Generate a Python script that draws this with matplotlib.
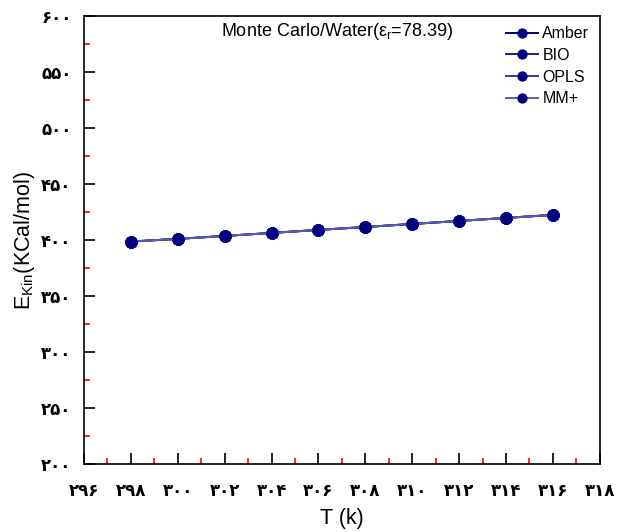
import matplotlib
matplotlib.use("Agg")
import matplotlib.pyplot as plt
from matplotlib.ticker import MultipleLocator, FuncFormatter

plt.rcParams['font.family'] = ['Liberation Sans', 'DejaVu Sans']
plt.rcParams['mathtext.fontset'] = 'custom'
plt.rcParams['mathtext.rm'] = 'Liberation Sans'
plt.rcParams['mathtext.it'] = 'Liberation Sans'

# Data
temperature = [298, 300, 302, 304, 306, 308, 310, 312, 314, 316]
amber = [398.6, 401.0, 403.6, 406.3, 409.0, 411.6, 414.3, 417.0, 419.7, 422.4]
bio = [398.6, 401.0, 403.6, 406.3, 409.0, 411.6, 414.3, 417.0, 419.7, 422.4]
opls = [398.6, 401.0, 403.6, 406.3, 409.0, 411.6, 414.3, 417.0, 419.7, 422.4]
mmplus = [398.6, 401.0, 403.6, 406.3, 409.0, 411.6, 414.3, 417.0, 419.7, 422.4]
series_names = ['Amber', 'BIO', 'OPLS', 'MM+']
line_colors = ['#000080', '#1c1c8e', '#36369c', '#5a5ab0']

fig = plt.figure(figsize=(6.3, 5.32), dpi=100)
ax = fig.add_axes([0.1333, 0.1278, 0.8187, 0.8422])

for vals, name, lc in zip([amber, bio, opls, mmplus], series_names, line_colors):
    ax.plot(temperature, vals, '-', color=lc, lw=1.4, marker='o', ms=8,
            markerfacecolor='#000080', markeredgecolor='#000080', label=name)

ax.set_xlim(296, 318)
ax.set_ylim(200, 600)
ax.xaxis.set_major_locator(MultipleLocator(2))
ax.xaxis.set_minor_locator(MultipleLocator(1))
ax.yaxis.set_major_locator(MultipleLocator(50))
ax.yaxis.set_minor_locator(MultipleLocator(25))

pers = str.maketrans('0123456789', '۰۱۲۳۴۵۶۷۸۹')
fmt = FuncFormatter(lambda v, p: str(int(round(v))).translate(pers))
ax.xaxis.set_major_formatter(fmt)
ax.yaxis.set_major_formatter(fmt)

ax.tick_params(which='major', direction='in', length=8, width=1.2, color='black',
               top=False, right=False)
ax.tick_params(axis='x', which='major', pad=13)
ax.tick_params(axis='y', which='major', pad=9)
ax.tick_params(which='minor', direction='in', length=4, width=1.2, color='red',
               top=False, right=False)
for lab in ax.get_xticklabels() + ax.get_yticklabels():
    lab.set_family('DejaVu Sans')
    lab.set_fontweight('bold')
    lab.set_fontsize(12)
for sp in ax.spines.values():
    sp.set_linewidth(1.2)

ax.set_xlabel('T (k)', fontsize=15.5, labelpad=6)
ax.set_ylabel(r'E$_{\rm Kin}$(KCal/mol)', fontsize=15.5, labelpad=3)

ax.text(0.49, 0.988, r'Monte Carlo/Water(ε$_{\rm r}$=78.39)', transform=ax.transAxes,
        ha='center', va='top', fontsize=13)

leg = ax.legend(loc='upper right', frameon=False, fontsize=11.5, handlelength=2.0,
                handletextpad=0.3, labelspacing=0.42, borderaxespad=0.25,
                markerscale=0.8)

fig.savefig('out.png', dpi=100)
